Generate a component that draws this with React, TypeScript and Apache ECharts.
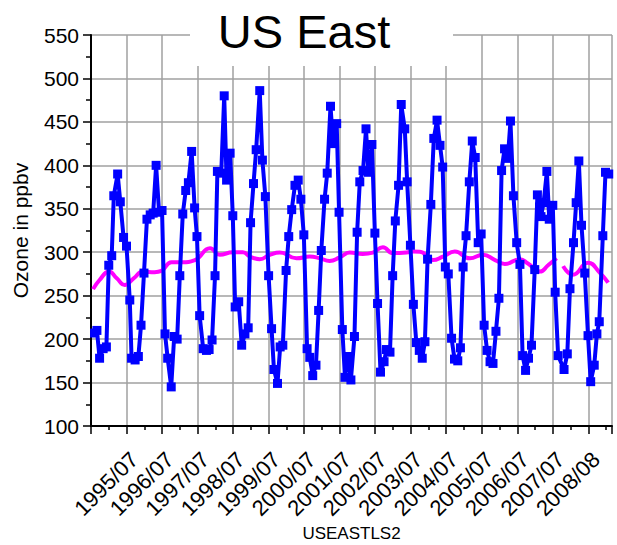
import React, { useEffect, useRef } from "react";
import * as echarts from "echarts";

// months since 1994/07
const blueMonths = [
  1.2, 2.0, 2.9, 4.1, 5.2, 6.0, 7.0, 7.7, 9.0, 9.9,
  11.0, 12.0, 13.1, 13.7, 14.9, 16.0, 16.9, 17.9, 18.9, 20.0,
  21.0, 22.0, 23.0, 24.0, 25.0, 25.9, 27.1, 28.1, 29.1, 30.0,
  31.0, 32.0, 32.9, 34.0, 35.0, 35.8, 36.7, 37.9, 39.0, 39.9,
  40.9, 41.9, 42.7, 44.0, 45.0, 45.8, 47.0, 47.9, 48.7, 49.9,
  50.9, 52.0, 53.1, 53.9, 54.9, 55.8, 57.0, 57.9, 58.9, 60.0,
  61.0, 61.8, 63.0, 63.9, 64.8, 65.9, 66.8, 67.8, 68.9, 70.0,
  70.9, 71.9, 73.0, 73.9, 74.9, 76.0, 76.9, 77.8, 78.9, 79.8,
  80.9, 81.8, 83.0, 83.8, 84.9, 85.8, 86.8, 87.8, 89.0, 89.9,
  90.8, 91.9, 92.9, 93.7, 94.9, 95.9, 96.8, 97.8, 99.0, 99.8,
  101.0, 101.9, 102.8, 103.9, 104.8, 106.0, 106.8, 107.9, 108.9, 109.9,
  110.9, 111.9, 112.8, 113.7, 114.8, 115.8, 116.9, 117.9, 118.8, 119.7,
  120.7, 121.8, 122.8, 123.9, 124.8, 125.7, 126.7, 127.8, 128.8, 129.8,
  130.8, 131.8, 132.8, 133.8, 134.8, 135.8, 136.8, 137.8, 138.7, 139.7,
  140.8, 141.7, 142.7, 143.8, 144.9, 145.8, 146.8, 147.8, 148.8, 149.9,
  150.8, 151.5, 152.0, 152.9, 154.0, 154.8, 156.0, 156.8, 157.8, 159.8,
  160.9, 161.8, 163.0, 163.9, 164.8, 165.7, 166.8, 167.9, 168.8, 170.0,
  170.9, 171.7, 172.9, 173.8, 174.9,
];
const blueValues = [
  207, 210, 178, 189, 191, 285, 296, 365, 390, 358,
  317, 307, 245, 178, 176, 180, 216, 276, 338, 343,
  345, 400, 346, 348, 206, 178, 145, 203, 200, 273,
  344, 371, 380, 416, 351, 318, 227, 189, 187, 188,
  199, 273, 393, 391, 480, 383, 414, 342, 237, 243,
  193, 206, 213, 334, 379, 418, 486, 406, 364, 273,
  212, 165, 149, 191, 193, 279, 318, 349, 377, 383,
  361, 320, 189, 179, 158, 170, 233, 302, 361, 391,
  468, 425, 448, 346, 211, 156, 180, 153, 203, 323,
  381, 394, 442, 392, 424, 322, 241, 162, 174, 188,
  185, 273, 336, 377, 470, 442, 381, 308, 240, 196,
  187, 178, 197, 292, 355, 431, 452, 423, 398, 283,
  275, 201, 177, 175, 190, 283, 319, 381, 428, 409,
  311, 321, 216, 187, 174, 172, 209, 247, 394, 419,
  408, 451, 365, 311, 286, 181, 164, 178, 193, 280,
  366, 352, 341, 357, 393, 338, 354, 254, 181, 165,
  183, 258, 311, 357, 405, 331, 276, 204, 151, 170,
  206, 220, 319, 392, 390,
];

const trendMonths = [
  0.7, 2.9, 6.1, 8.7, 11.4, 14.4, 17.6, 21.5, 23.8, 27.2,
  30.6, 35.1, 40.2, 43.5, 47.9, 51.3, 53.7, 57.0, 60.4, 63.8,
  69.4, 73.9, 77.3, 80.6, 84.0, 87.4, 91.8, 95.2, 98.6, 102.0,
  106.6, 108.8, 111.1, 115.5, 118.9, 122.9, 128.0, 132.4, 136.5, 139.8,
  144.9, 147.6, 151.7, 154.4, 157.3, 158.4, 159.5, 162.8, 167.9, 172.0,
  174.7,
];
const trendValues: (number | null)[] = [
  257.5, 268, 277.7, 270, 262.4, 270, 277.7, 277, 278.5, 288.5,
  288.5, 291, 304.6, 297, 300, 300, 295, 292, 297, 299.6,
  293, 295, 293, 290, 294, 299.6, 298, 299.6, 305.7, 299,
  299.6, 300.7, 300.5, 291, 295, 300.7, 293, 297, 291, 286.5,
  292, 287, 277.7, 285, 293, null, 284, 274, 288, 276,
  265,
];

const xTickLabels = [
  "1995/07", "1996/07", "1997/07", "1998/07", "1999/07", "2000/07", "2001/07",
  "2002/07", "2003/07", "2004/07", "2005/07", "2006/07", "2007/07", "2008/08",
];

const FONT = "Liberation Sans, Arial, Helvetica, sans-serif";

export default function App() {
  const ref = useRef<HTMLDivElement>(null);
  useEffect(() => {
    if (!ref.current) return;
    const chart = echarts.init(ref.current, null, { renderer: "svg" });
    const gridColor = "#a0a0a0";
    chart.setOption({
      animation: false,
      backgroundColor: "#ffffff",
      textStyle: { fontFamily: FONT },
      grid: {
        left: 91,
        right: 5,
        top: 35,
        bottom: 119,
        containLabel: false,
        outerBoundsMode: "none",
      },
      xAxis: {
        type: "value",
        min: 0,
        max: 176,
        interval: 12,
        name: "USEASTLS2",
        nameLocation: "middle",
        nameGap: 99,
        nameMoveOverlap: false,
        nameTextStyle: { fontSize: 17, color: "#000", fontFamily: FONT },
        axisLine: { show: true, lineStyle: { color: "#000", width: 2 } },
        axisTick: { show: true, length: 8, lineStyle: { color: "#000", width: 1.5 } },
        minorTick: { show: true, splitNumber: 2, length: 4, lineStyle: { color: "#000", width: 1.5 } },
        splitLine: { show: true, lineStyle: { color: gridColor, width: 1.5 } },
        axisLabel: {
          rotate: 45,
          margin: 22,
          fontSize: 22,
          color: "#000",
          fontFamily: FONT,
          align: "right",
          verticalAlign: "top",
          showMinLabel: false,
          showMaxLabel: false,
          formatter: (v: number) => {
            const i = Math.round(v / 12) - 1;
            if (v > 0 && Math.abs(v - (i + 1) * 12) < 1e-6 && i < xTickLabels.length) return xTickLabels[i];
            return "";
          },
        },
      },
      yAxis: {
        type: "value",
        min: 100,
        max: 550,
        interval: 50,
        name: "Ozone in ppbv",
        nameLocation: "middle",
        nameGap: 60,
        nameMoveOverlap: false,
        nameTextStyle: { fontSize: 21, color: "#000", fontFamily: FONT },
        axisLine: { show: true, lineStyle: { color: "#000", width: 2 } },
        axisTick: { show: true, length: 8, lineStyle: { color: "#000", width: 1.5 } },
        minorTick: { show: true, splitNumber: 2, length: 5, lineStyle: { color: "#000", width: 1.5 } },
        splitLine: { show: true, lineStyle: { color: gridColor, width: 1.5 } },
        axisLabel: { fontSize: 21, color: "#000", margin: 12, fontFamily: FONT },
      },
      graphic: [
        {
          type: "rect",
          z: 50,
          shape: { x: 190, y: 0, width: 263, height: 66 },
          style: { fill: "#ffffff" },
        },
        {
          type: "text",
          z: 51,
          x: 304,
          y: 31,
          style: {
            text: "US East",
            font: `47px ${FONT}`,
            fill: "#000",
            textAlign: "center",
            textVerticalAlign: "middle",
          },
        },
      ],
      series: [
        {
          type: "line",
          data: trendMonths.map((m, i) => [m, trendValues[i]]),
          smooth: 0.5,
          connectNulls: false,
          showSymbol: false,
          symbol: "none",
          lineStyle: { color: "#ff00ff", width: 4 },
          z: 3,
        },
        {
          type: "line",
          data: blueMonths.map((m, i) => [m, blueValues[i]]),
          symbol: "rect",
          symbolSize: 9,
          showAllSymbol: true,
          itemStyle: { color: "#0000ff" },
          lineStyle: { color: "#0000ff", width: 4 },
          z: 4,
        },
      ],
    });
    return () => chart.dispose();
  }, []);
  return (
    <div
      ref={ref}
      style={{ position: "fixed", left: 0, top: 0, width: 617, height: 545, background: "#fff" }}
    />
  );
}
